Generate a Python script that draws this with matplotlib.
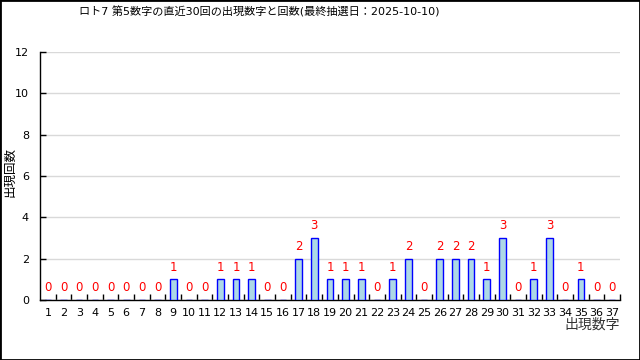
import numpy as np
import matplotlib
matplotlib.use("Agg")
import matplotlib.pyplot as plt
from matplotlib.patches import Rectangle

plt.rcParams['font.family'] = ['DejaVu Sans', 'Noto Sans CJK JP']

numbers = list(range(1, 38))
counts = [0, 0, 0, 0, 0, 0, 0, 0, 1, 0,
          0, 1, 1, 1, 0, 0, 2, 3, 1, 1,
          1, 0, 1, 2, 0, 2, 2, 2, 1, 3,
          0, 1, 3, 0, 1, 0, 0]
title = "ロト7 第5数字の直近30回の出現数字と回数(最終抽選日：2025-10-10)"
ylabel = "出現回数"
xlabel = "出現数字"

fig = plt.figure(figsize=(6.4, 3.6), dpi=100)
ax = fig.add_axes([40/640, 1-300/360, 580/640, 248/360])

ax.bar(numbers, counts, width=0.42, color='#add8e6', edgecolor='#0000ff', linewidth=1.0, zorder=3)
for x, c in zip(numbers, counts):
    ax.annotate(str(c), (x, c), xytext=(0, 4), textcoords='offset points',
                ha='center', va='bottom', color='#ff0000', fontsize=8.5)

ax.set_xlim(0.5, 37.5)
ax.set_ylim(0, 12)
ax.set_yticks(np.arange(0, 13, 2))
ax.set_xticks(numbers)
ax.set_xticks(np.arange(1.5, 38, 1), minor=True)
ax.tick_params(axis='x', which='major', length=0, pad=6, labelsize=8)
ax.tick_params(axis='x', which='minor', direction='in', length=4, width=1)
ax.tick_params(axis='y', direction='in', length=4, width=1, labelsize=8, pad=8)
ax.grid(axis='y', color='#d9d9d9', linewidth=1, zorder=0)
ax.spines['top'].set_visible(False)
ax.spines['right'].set_visible(False)
ax.spines['left'].set_linewidth(1)
ax.spines['bottom'].set_linewidth(1)

fig.text(259/640, 1-12/360, title, ha='center', va='center', fontsize=8)
fig.text(10/640, 1-172/360, ylabel, rotation=90, ha='center', va='center', fontsize=9)
fig.text(620/640, 1-325/360, xlabel, ha='right', va='center', fontsize=10, color='#333333')

fig.patches.append(Rectangle((0, 0), 1, 1, transform=fig.transFigure, fill=False,
                             edgecolor='black', linewidth=2))

fig.savefig("out.png", dpi=100)
